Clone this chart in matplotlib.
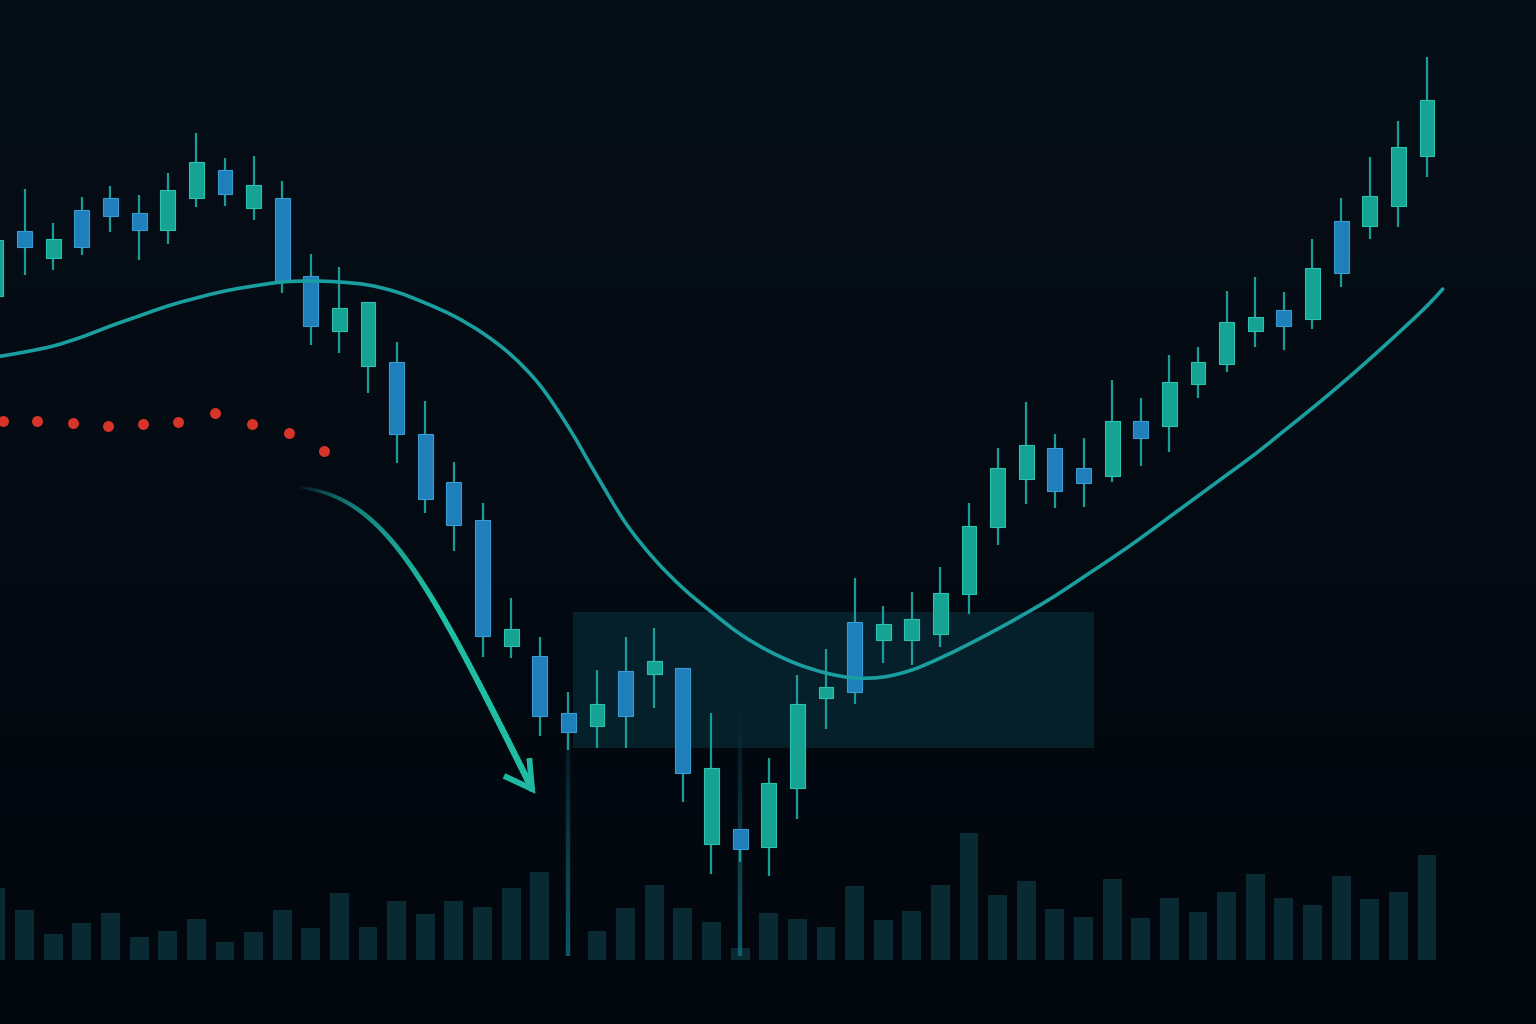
import numpy as np
import matplotlib.pyplot as plt
from matplotlib.collections import LineCollection
from matplotlib.patches import Rectangle, PathPatch
from matplotlib.path import Path

# ---- data (price units) ----
opens = [72.8, 79.3, 76.6, 81.4, 82.6, 81.1, 79.4, 82.6, 85.4, 81.6,
         82.6, 74.8, 69.3, 65.8, 66.2, 59.0, 54.2, 50.4, 37.8, 36.8,
         31.1, 29.8, 35.3, 35.0, 35.6, 18.0, 19.5, 17.7, 23.6, 32.6,
         40.2, 38.4, 38.4, 39.0, 43.0, 49.7, 54.5, 57.6, 55.6, 54.8,
         60.3, 59.8, 64.0, 66.0, 69.3, 71.4, 70.5, 80.3, 79.8, 81.8,
         86.8]
closes = [78.4, 77.7, 78.5, 77.7, 80.8, 79.4, 83.4, 86.2, 83.0, 83.9,
          74.2, 69.8, 71.6, 72.2, 59.0, 52.5, 49.9, 38.8, 39.5, 30.8,
          29.2, 32.0, 30.8, 36.3, 25.1, 25.6, 17.5, 24.1, 32.0, 33.7,
          33.2, 40.0, 40.5, 43.1, 49.8, 55.6, 57.9, 53.3, 54.1, 60.3,
          58.6, 64.2, 66.2, 70.2, 70.7, 69.8, 75.6, 75.1, 82.8, 87.7,
          92.4]
highs = [78.6, 83.5, 80.1, 82.7, 83.8, 82.9, 85.1, 89.1, 86.6, 86.8,
         84.3, 77.0, 75.7, 72.2, 68.2, 62.3, 56.2, 52.1, 42.6, 38.7,
         33.2, 35.4, 38.7, 39.6, 35.6, 31.1, 19.5, 26.6, 34.9, 37.5,
         44.6, 41.8, 43.2, 45.7, 52.1, 57.6, 62.2, 59.0, 58.6, 64.4,
         62.6, 66.9, 67.7, 73.3, 74.7, 73.2, 78.5, 82.6, 86.7, 90.3,
         96.7]
lows = [72.6, 74.9, 75.4, 76.9, 79.2, 76.4, 78.0, 81.7, 81.8, 80.4,
        73.1, 67.9, 67.1, 63.1, 56.1, 51.1, 47.3, 36.7, 36.6, 28.8,
        27.4, 27.6, 27.6, 31.6, 22.2, 15.0, 16.2, 14.8, 20.5, 29.5,
        32.0, 36.1, 35.9, 37.7, 41.0, 47.9, 52.0, 51.6, 51.7, 54.2,
        55.8, 57.2, 62.6, 65.2, 67.7, 67.4, 69.5, 73.7, 78.5, 79.7,
        84.7]
volume = [72, 50, 26, 37, 47, 23, 29, 41, 18, 28,
          50, 32, 67, 33, 59, 46, 59, 53, 72, 88,
          0, 29, 52, 75, 52, 38, 12, 47, 41, 33,
          74, 40, 49, 75, 127, 65, 79, 51, 43, 81,
          42, 62, 48, 68, 86, 62, 55, 84, 61, 68,
          105]
ma_x = list(range(51)) + [50.55]
ma_vals = [66.7, 67.2, 67.8, 68.7, 69.8, 70.8, 71.8, 72.6, 73.3, 73.8,
           74.2, 74.3, 74.2, 73.9, 73.2, 72.1, 70.8, 69.1, 66.9, 63.9,
           59.7, 54.8, 50.1, 46.5, 43.6, 41.2, 39.0, 37.3, 36.0, 35.1,
           34.6, 34.7, 35.4, 36.6, 38.0, 39.5, 41.1, 42.8, 44.7, 46.6,
           48.6, 50.7, 52.8, 54.9, 57.0, 59.3, 61.6, 64.0, 66.5, 69.1,
           71.8, 73.5]
dot_x = [0.25, 1.45, 2.69, 3.91, 5.14, 6.36, 7.65, 8.94, 10.24, 11.46]
dot_y = [60.3, 60.3, 60.1, 59.8, 60.0, 60.2, 61.1, 60.0, 59.1, 57.3]
glow_idx = [20, 26]

# support zone
zone_x0, zone_x1 = 20.15, 38.35
zone_lo, zone_hi = 27.6, 41.2

GREEN = '#16a394'
BLUE = '#1f7fba'
BG_TOP = '#060e17'
BG_BOT = '#02070d'

fig = plt.figure(figsize=(15.36, 10.24), dpi=100)

# background gradient
bg = fig.add_axes([0, 0, 1, 1])
top = np.array([int(BG_TOP[i:i + 2], 16) for i in (1, 3, 5)]) / 255
bot = np.array([int(BG_BOT[i:i + 2], 16) for i in (1, 3, 5)]) / 255
t = np.linspace(0, 1, 256)[:, None, None]
grad = top * (1 - t) + bot * t
bg.imshow(np.repeat(grad, 2, axis=1), aspect='auto', extent=[0, 1, 0, 1])
bg.axis('off')

xlim = (0.14, 53.81)

# volume panel (same x, own scale)
axv = fig.add_axes([0, 0, 1, 1])
axv.patch.set_visible(False)
idx = np.arange(len(volume))
axv.bar(idx, volume, width=0.66, color='#0a2d36', alpha=0.95, zorder=1)
for g in glow_idx:
    segs = np.linspace(4, 250, 50)
    for k in range(len(segs) - 1):
        a = 0.75 * (1 - k / (len(segs) - 1)) ** 0.8
        axv.plot([g, g], [segs[k], segs[k + 1]], color='#14707e', lw=3.2,
                 alpha=a, solid_capstyle='butt', zorder=2)
axv.set_xlim(*xlim)
axv.set_ylim(-64, 960)
axv.axis('off')

# price panel
ax = fig.add_axes([0, 0, 1, 1])
ax.patch.set_visible(False)
ax.set_xlim(*xlim)
ax.set_ylim(0, 102.4)
ax.axis('off')

ax.add_patch(Rectangle((zone_x0, zone_lo), zone_x1 - zone_x0, zone_hi - zone_lo,
                       facecolor='#0a3442', alpha=0.55, edgecolor='none', zorder=1))

for i, (o, h, l, c) in enumerate(zip(opens, highs, lows, closes)):
    col = GREEN if c >= o else BLUE
    edge = '#2cc2b0' if c >= o else '#3a9bd2'
    ax.vlines(i, l, h, color='#1a9c98', lw=1.6, zorder=3)
    ax.bar(i, abs(c - o), bottom=min(o, c), width=0.52, color=col,
           edgecolor=edge, linewidth=0.8, zorder=4)

# moving average, drawn as a smooth path through its points
pts = np.column_stack([ma_x, ma_vals])
verts = [pts[0]]
codes = [Path.MOVETO]
for i in range(len(pts) - 1):
    p_prev = pts[max(i - 1, 0)]
    p_next2 = pts[min(i + 2, len(pts) - 1)]
    c1 = pts[i] + (pts[i + 1] - p_prev) / 6
    c2 = pts[i + 1] - (p_next2 - pts[i]) / 6
    verts += [c1, c2, pts[i + 1]]
    codes += [Path.CURVE4] * 3
ax.add_patch(PathPatch(Path(verts, codes), facecolor='none', edgecolor='#1a9fa0',
                       lw=2.6, capstyle='round', joinstyle='round', zorder=5))

# red dotted trail
ax.scatter(dot_x, dot_y, s=62, color='#d8352a', zorder=5, linewidths=0)

# curved arrow (cubic Bezier in data units)
P = np.array([[10.48, 53.7], [13.55, 52.9], [15.0, 45.0], [18.73, 23.5]])
tt = np.linspace(0, 1, 140)[:, None]
curve = ((1 - tt) ** 3 * P[0] + 3 * (1 - tt) ** 2 * tt * P[1]
         + 3 * (1 - tt) * tt ** 2 * P[2] + tt ** 3 * P[3])
segments = np.stack([curve[:-1], curve[1:]], axis=1)
ramp = np.linspace(0, 1, len(segments))
colors = np.zeros((len(segments), 4))
c0 = np.array([0.05, 0.33, 0.38])
c1 = np.array([0.12, 0.74, 0.64])
mix = np.clip(ramp * 1.6, 0, 1)[:, None]
colors[:, :3] = c0 * (1 - mix) + c1 * mix
colors[:, 3] = np.clip(ramp * 3.5, 0, 1)
lc = LineCollection(segments, colors=colors, linewidths=2.4 + 2.2 * ramp,
                    capstyle='round', zorder=6)
ax.add_collection(lc)

# open chevron head, built in pixel space
fig.canvas.draw()
tip = ax.transData.transform(curve[-1])
ang = np.deg2rad(-55)          # pointing down-right
head_len, half = 31, np.deg2rad(30)
arms = []
for s in (1, -1):
    a = ang + np.pi + s * half
    arms.append(tip + head_len * np.array([np.cos(a), np.sin(a)]))
inv = ax.transData.inverted()
head = inv.transform(np.array([arms[0], tip, arms[1]]))
ax.plot(head[:, 0], head[:, 1], color='#1fb8a2', lw=4.2,
        solid_joinstyle='miter', solid_capstyle='butt', zorder=7)

fig.savefig('out.png', dpi=100, facecolor=BG_BOT)
